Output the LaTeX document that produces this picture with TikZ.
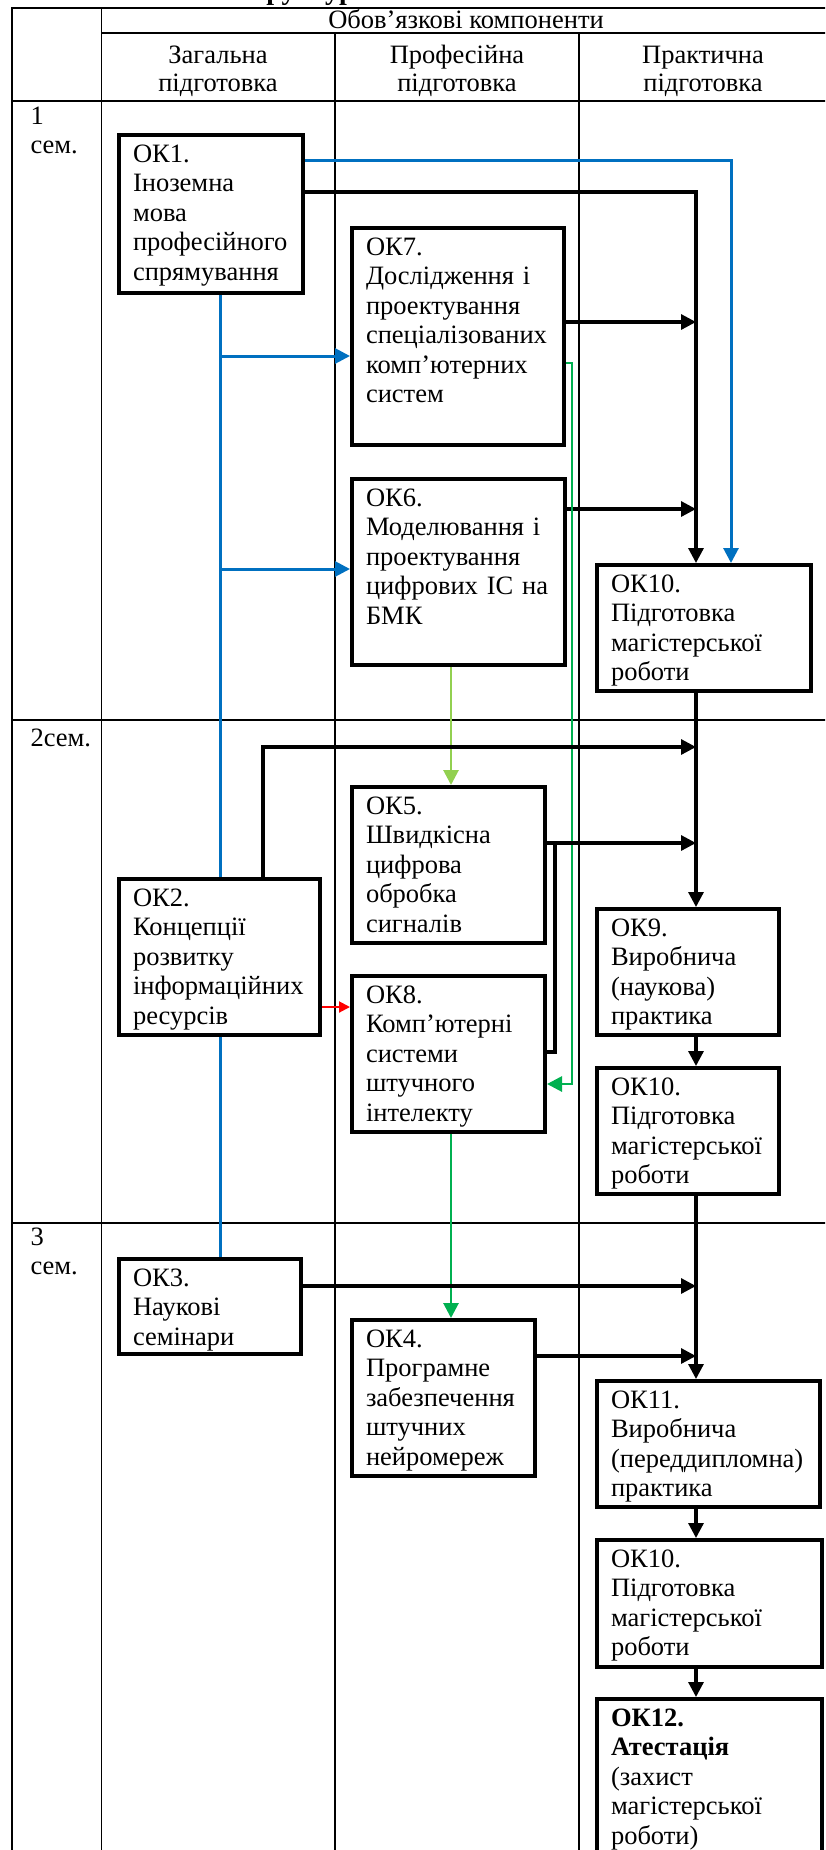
\documentclass[tikz,border=0pt]{standalone}
\usepackage{fontspec}
\setmainfont{Liberation Serif}
\usetikzlibrary{arrows.meta}
\definecolor{okblue}{RGB}{0,112,192}
\definecolor{okgreen}{RGB}{0,176,80}
\definecolor{oklime}{RGB}{146,208,80}
\tikzset{
  >={Triangle[length=15pt,width=15pt]},
  cell/.style={line width=1.8pt},
  okbox/.style 2 args={draw, line width=4pt, anchor=north west, align=left,
    inner xsep=14pt, inner ysep=6pt, text height=21pt,
    text width=#1pt-28pt, text depth=#2pt-33pt},
  head/.style={anchor=base, align=center, text width=220pt,
    font=\fontsize{26.5pt}{28pt}\selectfont},
  sem/.style={anchor=base west, align=left, text width=70pt},
  link/.style={->, line width=3.2pt},
  bluewire/.style={okblue, line width=3pt},
  greenwire/.style={okgreen, line width=2.8pt},
  limewire/.style={oklime, line width=2.8pt},
  redwire/.style={->, >={Triangle[length=11pt,width=11pt]}, red, line width=2pt},
}
\begin{document}
\begin{tikzpicture}[x=1pt, y=-1pt, font=\fontsize{26.5pt}{29.5pt}\selectfont]
  \useasboundingbox (0,0) rectangle (825,1850);
  \clip (0,0) rectangle (825,1850);

  \node[anchor=base west, font=\fontsize{28pt}{30pt}\selectfont\bfseries] (title) at (229,-1) {Структурно-логічна схема};

  \draw[cell] (12,8) rectangle (827,1900);
  \draw[cell] (101.5,8) -- (101.5,1900);
  \draw[cell] (101.5,33) -- (827,33);
  \draw[cell] (335,33) -- (335,1900);
  \draw[cell] (579,33) -- (579,1900);
  \draw[cell] (12,101) -- (827,101);
  \draw[cell] (12,720) -- (827,720);
  \draw[cell] (12,1223) -- (827,1223);

  \node[anchor=base] (oblig) at (466,28) {Обов’язкові компоненти};
  \node[head] (gen) at (218,63) {Загальна\\підготовка};
  \node[head] (prof) at (457,63) {Професійна\\підготовка};
  \node[head] (prac) at (703,63) {Практична\\підготовка};

  \node[sem] (sem1) at (27,124) {1\\сем.};
  \node[sem] (sem2) at (27,746) {2сем.};
  \node[sem] (sem3) at (27,1245) {3\\сем.};

  \node[okbox={184}{158}] (ok1) at (117,133) {ОК1.\\Іноземна\\мова\\професійного\\спрямування};
  \node[okbox={212}{217}] (ok7) at (350,226) {ОК7.\\Дослідження і\\проектування\\спеціалізованих\\комп’ютерних\\систем};
  \node[okbox={213}{186}] (ok6) at (350,477) {ОК6.\\Моделювання і\\проектування\\цифрових ІС на\\БМК};
  \node[okbox={214}{126}] (ok10a) at (595,563) {ОК10.\\Підготовка\\магістерської\\роботи};
  \node[okbox={193}{156}] (ok5) at (350,785) {ОК5.\\Швидкісна\\цифрова\\обробка\\сигналів};
  \node[okbox={201}{156}] (ok2) at (117,877) {ОК2.\\Концепції\\розвитку\\інформаційних\\ресурсів};
  \node[okbox={193}{156}] (ok8) at (350,974) {ОК8.\\Комп’ютерні\\системи\\штучного\\інтелекту};
  \node[okbox={182}{126}] (ok9) at (595,907) {ОК9.\\Виробнича\\(наукова)\\практика};
  \node[okbox={182}{126}] (ok10b) at (595,1066) {ОК10.\\Підготовка\\магістерської\\роботи};
  \node[okbox={182}{95}] (ok3) at (117,1257) {ОК3.\\Наукові\\семінари};
  \node[okbox={183}{156}] (ok4) at (350,1318) {ОК4.\\Програмне\\забезпечення\\штучних\\нейромереж};
  \node[okbox={223}{126}] (ok11) at (595,1379) {ОК11.\\Виробнича\\(переддипломна)\\практика};
  \node[okbox={225}{127}] (ok10c) at (595,1538) {ОК10.\\Підготовка\\магістерської\\роботи};
  \node[okbox={225}{200}] (ok12) at (595,1697) {\textbf{ОК12.}\\\textbf{Атестація}\\(захист\\магістерської\\роботи)};

  \coordinate (mainbus) at (696,101);
  \coordinate (bluebus) at (731,101);
  \coordinate (greenbus) at (572,101);
  \coordinate (trunk) at (220,101);
  \coordinate (limebus) at (451,101);
  \coordinate (join5) at (555,843);

  \draw[bluewire, ->] (ok1.east |- 0,160) -| (bluebus |- ok10a.north);
  \draw[link] (ok1.east |- 0,192) -| (mainbus |- ok10a.north);
  \draw[link] (ok7.east |- 0,322) -- (mainbus |- 0,322);
  \draw[link] (ok6.east |- 0,509) -- (mainbus |- 0,509);
  \draw[bluewire] (trunk |- ok1.south) -- (trunk |- ok2.north);
  \draw[bluewire, ->] (trunk |- 0,356) -- (ok7.west |- 0,356);
  \draw[bluewire, ->] (trunk |- 0,569) -- (ok6.west |- 0,569);
  \draw[greenwire, ->] (ok7.east |- 0,363) -| (greenbus |- 0,1084) -- (ok8.east |- 0,1084);
  \draw[limewire, ->] (limebus |- ok6.south) -- (limebus |- ok5.north);

  \draw[link] (ok2.north -| 263,0) |- (mainbus |- 0,747);
  \draw[link] (ok10a.south -| mainbus) -- (ok9.north -| mainbus);
  \draw[link] (ok5.east |- 0,843) -- (mainbus |- 0,843);
  \draw[line width=3.2pt] (ok8.east |- 0,1052) -| (join5);
  \draw[redwire] (ok2.east |- 0,1007) -- (ok8.west |- 0,1007);
  \draw[link] (ok9.south -| mainbus) -- (ok10b.north -| mainbus);
  \draw[bluewire] (trunk |- ok2.south) -- (trunk |- ok3.north);

  \draw[greenwire, ->] (limebus |- ok8.south) -- (limebus |- ok4.north);
  \draw[link] (ok10b.south -| mainbus) -- (ok11.north -| mainbus);
  \draw[link] (ok3.east |- 0,1286) -- (mainbus |- 0,1286);
  \draw[link] (ok4.east |- 0,1356) -- (mainbus |- 0,1356);
  \draw[link] (ok11.south -| mainbus) -- (ok10c.north -| mainbus);
  \draw[link] (ok10c.south -| mainbus) -- (ok12.north -| mainbus);
\end{tikzpicture}
\end{document}
